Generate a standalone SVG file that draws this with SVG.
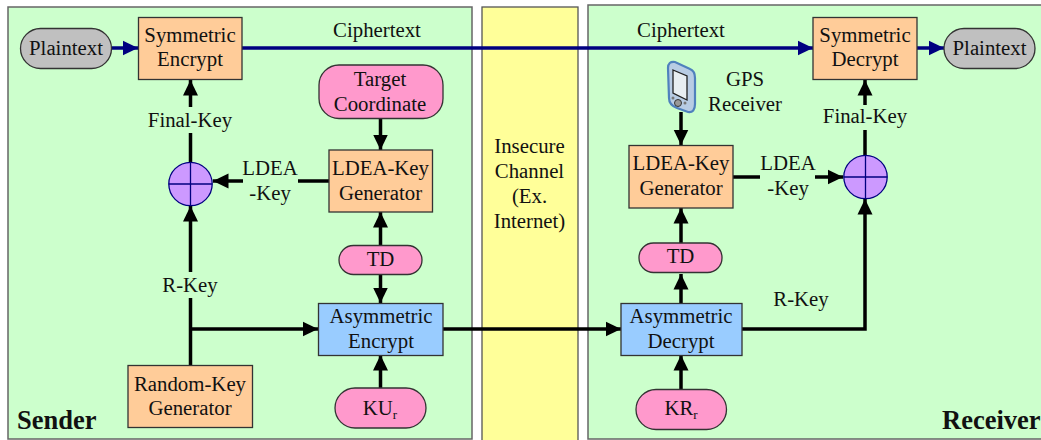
<svg xmlns="http://www.w3.org/2000/svg" width="1041" height="440" viewBox="0 0 1041 440">
<defs>
<style>
text{font-family:"Liberation Serif","Times New Roman",serif;font-size:20.800px;fill:#111;text-anchor:middle}
.bold{font-weight:700;font-size:26.500px;text-anchor:start}
.panel{fill:#ccffcc;stroke:#666;stroke-width:1.5}
.chan{fill:#ffff99;stroke:#555;stroke-width:1.3}
.box{stroke:#333;stroke-width:1.3}
.or{fill:#ffcc99}.bl{fill:#99ccff}.pk{fill:#ff99cc}.gr{fill:#c0c0c0}
.k{fill:none;stroke:#000;stroke-width:3.5}
.n{fill:none;stroke:#000080;stroke-width:3.5}
.xor{fill:#cc99ff;stroke:#000080;stroke-width:1.3}
.xl{stroke:#000080;stroke-width:1.3;fill:none}
</style>
<marker id="ak" markerUnits="userSpaceOnUse" markerWidth="17" markerHeight="16" refX="15.500" refY="8" orient="auto"><path d="M0 0.500L15.500 8L0 15.500Z" fill="#000"/></marker>
<marker id="an" markerUnits="userSpaceOnUse" markerWidth="17" markerHeight="16" refX="15.500" refY="8" orient="auto"><path d="M0 0.500L15.500 8L0 15.500Z" fill="#000080"/></marker>
</defs>
<rect width="1041" height="440" fill="#fff"/>
<g id="sender-panel"><rect class="panel" x="8" y="7" width="464" height="432"/><text class="bold" x="17" y="429">Sender</text></g>
<g id="channel"><rect class="chan" x="482" y="7" width="96" height="434"/>
<text x="529.500" y="153">Insecure</text><text x="529.500" y="178">Channel</text><text x="529.500" y="203">(Ex.</text><text x="529.500" y="228">Internet)</text></g>
<g id="receiver-panel"><rect class="panel" x="588" y="5" width="460" height="434"/><text class="bold" x="942" y="429">Receiver</text></g>
<g id="connectors">
<path class="n" d="M112 48H138" marker-end="url(#an)"/>
<path class="n" d="M242 48H813" marker-end="url(#an)"/>
<path class="n" d="M917 48H944" marker-end="url(#an)"/>
<path class="k" d="M190.500 162V133"/><path class="k" d="M190.500 107V80" marker-end="url(#ak)"/>
<path class="k" d="M329 181H298"/><path class="k" d="M243 181H213" marker-end="url(#ak)"/>
<path class="k" d="M380.500 118V150" marker-end="url(#ak)"/>
<path class="k" d="M380.500 245V212" marker-end="url(#ak)"/>
<path class="k" d="M380.500 274V303" marker-end="url(#ak)"/>
<path class="k" d="M380.500 388V355" marker-end="url(#ak)"/>
<path class="k" d="M190.500 365V298"/><path class="k" d="M190.500 272V206" marker-end="url(#ak)"/>
<path class="k" d="M190.500 329H318" marker-end="url(#ak)"/>
<path class="k" d="M443 329H621" marker-end="url(#ak)"/>
<path class="k" d="M681 112V145" marker-end="url(#ak)"/>
<path class="k" d="M681 243V208" marker-end="url(#ak)"/>
<path class="k" d="M681 303V274" marker-end="url(#ak)"/>
<path class="k" d="M681 389V355" marker-end="url(#ak)"/>
<path class="k" d="M733 177H760"/><path class="k" d="M815 177H843" marker-end="url(#ak)"/>
<path class="k" d="M865 155V130"/><path class="k" d="M865 105V80" marker-end="url(#ak)"/>
<path class="k" d="M742 329H865V199" marker-end="url(#ak)"/>
</g>
<g id="labels">
<text x="377" y="37">Ciphertext</text><text x="681" y="37">Ciphertext</text>
<text x="190" y="127">Final-Key</text><text x="865" y="123">Final-Key</text>
<text x="270" y="175">LDEA</text><text x="270" y="200">-Key</text>
<text x="788" y="170">LDEA</text><text x="788" y="195">-Key</text>
<text x="190" y="292">R-Key</text><text x="801" y="306">R-Key</text>
<text x="745" y="86">GPS</text><text x="745" y="111">Receiver</text>
</g>
<g id="plaintext-in"><rect class="box gr" x="20.500" y="28.500" width="91" height="40" rx="20"/><text x="66" y="55">Plaintext</text></g>
<g id="sym-encrypt"><rect class="box or" x="138.500" y="17.500" width="103.500" height="62"/><text x="190" y="42">Symmetric</text><text x="190" y="66">Encrypt</text></g>
<g id="target"><rect class="box pk" x="319" y="65" width="124" height="53.500" rx="20"/><text x="380" y="86">Target</text><text x="380" y="111">Coordinate</text></g>
<g id="ldea-s"><rect class="box or" x="329" y="150" width="103.500" height="62"/><text x="380.500" y="175">LDEA-Key</text><text x="380.500" y="200">Generator</text></g>
<g id="xor-s"><circle class="xor" cx="190.500" cy="184" r="21.700"/><path class="xl" d="M168.800 184H212.200M190.500 162.300V205.700"/></g>
<g id="td-s"><rect class="box pk" x="339" y="245.500" width="83" height="29" rx="14.500"/><text x="380.500" y="266">TD</text></g>
<g id="asym-encrypt"><rect class="box bl" x="318.500" y="303.500" width="124.500" height="52"/><text x="381" y="323">Asymmetric</text><text x="381" y="348">Encrypt</text></g>
<g id="random-key"><rect class="box or" x="128" y="365.500" width="124.500" height="62"/><text x="190" y="391">Random-Key</text><text x="190" y="415">Generator</text></g>
<g id="ku"><rect class="box pk" x="335" y="388" width="91" height="40" rx="20"/><text x="380" y="415">KU<tspan font-size="13" dy="4">r</tspan></text></g>
<g id="gps"><path d="M668 68Q668 61 675 62L690 69Q695 71 695 78V104Q695 113 688 112L677 108Q669 105 669 98Z" fill="#b8cce4" stroke="#4f81bd" stroke-width="2.200"/><path d="M673 70L687 76V100L673 93Z" fill="#e8eef2" stroke="#222" stroke-width="1.300"/><circle cx="678" cy="103" r="3.500" fill="#999" stroke="#333"/><circle cx="673" cy="98" r="1.500" fill="#777"/><circle cx="685" cy="103" r="1.500" fill="#777"/></g>
<g id="ldea-r"><rect class="box or" x="629" y="145.500" width="104" height="62.500"/><text x="681" y="170">LDEA-Key</text><text x="681" y="195">Generator</text></g>
<g id="sym-decrypt"><rect class="box or" x="813" y="17.500" width="104" height="62"/><text x="865" y="42">Symmetric</text><text x="865" y="66">Decrypt</text></g>
<g id="plaintext-out"><rect class="box gr" x="944" y="28.500" width="91" height="40" rx="20"/><text x="989.500" y="55">Plaintext</text></g>
<g id="xor-r"><circle class="xor" cx="865.500" cy="177" r="21.700"/><path class="xl" d="M843.800 177H887.200M865.500 155.300V198.700"/></g>
<g id="td-r"><rect class="box pk" x="639" y="243" width="83" height="29.500" rx="14.500"/><text x="680.500" y="263">TD</text></g>
<g id="asym-decrypt"><rect class="box bl" x="621" y="303.500" width="121" height="52"/><text x="681" y="323">Asymmetric</text><text x="681" y="348">Decrypt</text></g>
<g id="kr"><rect class="box pk" x="636" y="389.500" width="90.500" height="40" rx="20"/><text x="681" y="415">KR<tspan font-size="13" dy="4">r</tspan></text></g>
</svg>
